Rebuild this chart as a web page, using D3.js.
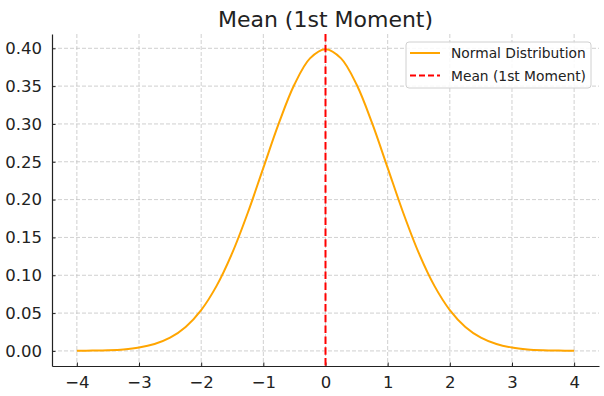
<!DOCTYPE html>
<html>
<head>
<meta charset="utf-8">
<script src="https://cdn.jsdelivr.net/npm/d3@7"></script>
<style>
  body { margin: 0; background: #fff; }
  svg text { font-family: "DejaVu Sans", sans-serif; }
</style>
</head>
<body>
<div id="chart"></div>
<script>
// values
var xValues = [-4, -3.75, -3.5, -3.25, -3, -2.75, -2.5, -2.25, -2, -1.75, -1.5, -1.25, -1, -0.75, -0.5, -0.25,
               0, 0.25, 0.5, 0.75, 1, 1.25, 1.5, 1.75, 2, 2.25, 2.5, 2.75, 3, 3.25, 3.5, 3.75, 4];
var densityValues = [0.0001, 0.0004, 0.0009, 0.0020, 0.0044, 0.0091, 0.0175, 0.0317, 0.0540, 0.0863, 0.1295, 0.1826, 0.2420, 0.3011, 0.3521, 0.3867,
                     0.3989, 0.3867, 0.3521, 0.3011, 0.2420, 0.1826, 0.1295, 0.0863, 0.0540, 0.0317, 0.0175, 0.0091, 0.0044, 0.0020, 0.0009, 0.0004, 0.0001];
var meanValue = 0;
var xTicks = [-4, -3, -2, -1, 0, 1, 2, 3, 4];
var yTicks = [0, 0.05, 0.10, 0.15, 0.20, 0.25, 0.30, 0.35, 0.40];
var seriesNames = ["Normal Distribution", "Mean (1st Moment)"];
var chartTitle = "Mean (1st Moment)";

var W = 604, H = 396;
var margin = {top: 34, right: 5, bottom: 30, left: 52};
var width = W - margin.left - margin.right,
    height = H - margin.top - margin.bottom;

var svg = d3.select("#chart").append("svg")
    .attr("width", W)
    .attr("height", H);

var g = svg.append("g")
    .attr("transform", "translate(" + margin.left + "," + margin.top + ")");

var x = d3.scaleLinear().domain([-4.4, 4.4]).range([0, width]);
var y = d3.scaleLinear().domain([-0.01995, 0.4189]).range([height, 0]);

// grid
g.append("g").selectAll("line").data(xTicks).enter().append("line")
    .attr("x1", function(d) { return x(d); })
    .attr("x2", function(d) { return x(d); })
    .attr("y1", 0).attr("y2", height)
    .attr("stroke", "#c4c4c4").attr("stroke-width", 0.8)
    .attr("stroke-dasharray", "4,2");
g.append("g").selectAll("line").data(yTicks).enter().append("line")
    .attr("y1", function(d) { return y(d); })
    .attr("y2", function(d) { return y(d); })
    .attr("x1", 0).attr("x2", width)
    .attr("stroke", "#c4c4c4").attr("stroke-width", 0.8)
    .attr("stroke-dasharray", "4,2");

// axes
var xAxis = d3.axisBottom(x).tickValues(xTicks).tickSizeInner(-3.5).tickSizeOuter(0).tickPadding(10)
    .tickFormat(function(d) { return d < 0 ? "\u2212" + Math.abs(d) : d; });
var yAxis = d3.axisLeft(y).tickValues(yTicks).tickSizeInner(-3.5).tickSizeOuter(0).tickPadding(10)
    .tickFormat(d3.format(".2f"));

var gx = g.append("g")
    .attr("transform", "translate(0," + height + ")")
    .call(xAxis);
var gy = g.append("g").call(yAxis);

[gx, gy].forEach(function(a) {
  a.selectAll("text").attr("fill", "#222").style("font-size", "16.5px");
  a.selectAll("line").attr("stroke", "#222");
  a.select(".domain").attr("stroke", "#222").attr("stroke-width", 1.2);
});

// curve
var line = d3.line()
    .x(function(d, i) { return x(xValues[i]); })
    .y(function(d) { return y(d); })
    .curve(d3.curveCatmullRom);

g.append("path")
    .datum(densityValues)
    .attr("fill", "none")
    .attr("stroke", "orange")
    .attr("stroke-width", 2)
    .attr("d", line);

// mean line
g.append("line")
    .attr("x1", x(meanValue)).attr("x2", x(meanValue))
    .attr("y1", 0).attr("y2", height)
    .attr("stroke", "red").attr("stroke-width", 2)
    .attr("stroke-dasharray", "7.5,3.3");

// title
svg.append("text")
    .attr("x", margin.left + width / 2)
    .attr("y", 27)
    .attr("text-anchor", "middle")
    .attr("fill", "#222")
    .style("font-size", "22px")
    .text(chartTitle);

// legend
var legend = svg.append("g").attr("transform", "translate(406,42)");
legend.append("rect")
    .attr("width", 185).attr("height", 46)
    .attr("rx", 3)
    .attr("fill", "#fff").attr("fill-opacity", 0.85)
    .attr("stroke", "#d0d0d0");
var colors = ["orange", "red"];
var dashes = [null, "6,3"];
seriesNames.forEach(function(name, i) {
  var ly = 11 + i * 22.5;
  legend.append("line")
      .attr("x1", 4).attr("x2", 34)
      .attr("y1", ly).attr("y2", ly)
      .attr("stroke", colors[i]).attr("stroke-width", 2)
      .attr("stroke-dasharray", dashes[i]);
  legend.append("text")
      .attr("x", 45).attr("y", ly + 5)
      .attr("fill", "#222")
      .style("font-size", "13.8px")
      .text(name);
});
</script>
</body>
</html>
